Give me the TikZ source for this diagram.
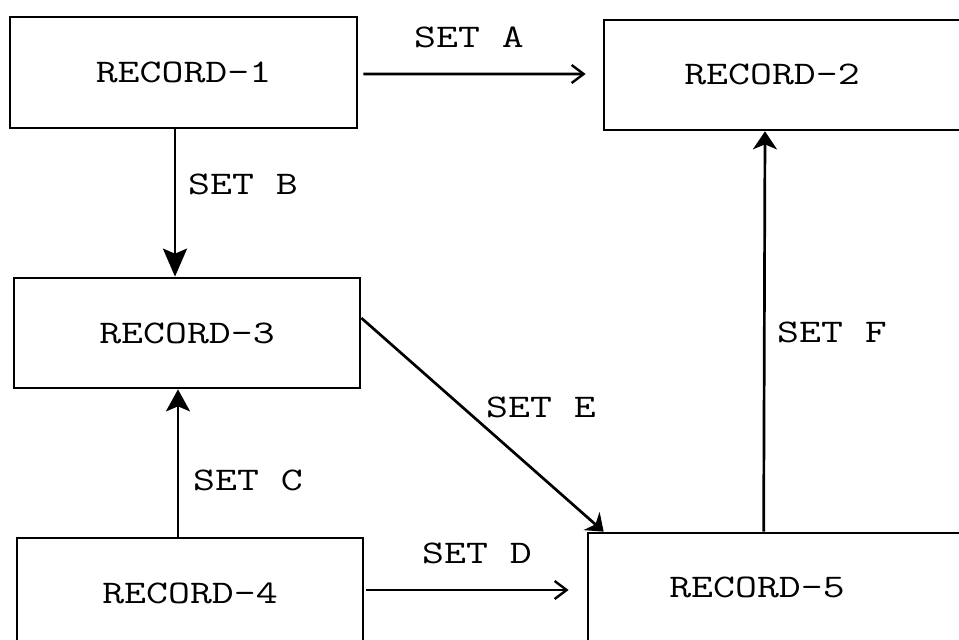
\documentclass[tikz,border=0pt]{standalone}
\usepackage{fontspec}
\usepackage{graphicx}
\usetikzlibrary{arrows.meta,calc}
\newcommand{\reffont}{\ttfamily\fontsize{33bp}{38bp}\selectfont}
\newcommand{\ls}[1]{\scalebox{1.29}[1]{#1}}
\begin{document}
\begin{tikzpicture}[x=1bp,y=-1bp,
  rec/.style={draw,line width=2.7bp,rectangle,inner sep=0pt,font=\reffont},
  txt/.style={font=\reffont,inner sep=0pt},
  con/.style={line width=2.7bp},
  openarr/.style={con,-{Straight Barb[length=12bp,width=18bp,line width=2.4bp]}},
  fillarr/.style={con,-{Stealth[length=#1,width=24bp,inset=5bp]}},
  fillarr/.default=26bp
]
\useasboundingbox[fill=white] (0,0) rectangle (959,640);
\begin{scope}
\clip (0,0) rectangle (959,640);
% boxes
\node[rec,minimum width=347bp,minimum height=111bp] (r1) at (183.5,72.5) {\ls{RECORD-1}};
\node[rec,minimum width=400bp,minimum height=110bp] (r2) at (804,75) {};
\node[txt] (t2) at (772,74) {\ls{RECORD-2}};
\node[rec,minimum width=346bp,minimum height=110bp] (r3) at (187,333) {\ls{RECORD-3}};
\node[rec,minimum width=346bp,minimum height=110bp] (r4) at (190,593) {\ls{RECORD-4}};
\node[rec,minimum width=420bp,minimum height=120bp] (r5) at (798,593) {};
\node[txt] (t5) at (757,587) {\ls{RECORD-5}};
% connectors
\draw[openarr] ($(r1.east)+(5,1.5)$) -- ($(r2.west)+(-17,-1)$);
\draw[fillarr=28bp] ($(r1.south)+(-8.5,0)$) -- ($(r3.north)+(-12,0)$);
\draw[fillarr=22bp] ($(r4.north)+(-12,0)$) -- ($(r3.south)+(-9,0)$);
\draw[openarr] ($(r4.east)+(2,-3)$) -- ($(r5.west)+(-18,-3)$);
\draw[fillarr=16bp] ($(r3.east)+(0,-15)$) -- ($(r5.north west)+(17,0)$);
\draw[fillarr=18bp] ($(r5.north west)+(177,0)$) -- ($(r2.south)+(-39,0)$);
% labels
\node[txt] (la) at (469,37) {\ls{SET A}};
\node[txt] (lb) at (243,184) {\ls{SET B}};
\node[txt] (lc) at (248,480) {\ls{SET C}};
\node[txt] (ld) at (477,553) {\ls{SET D}};
\node[txt] (le) at (541,407) {\ls{SET E}};
\node[txt] (lf) at (832,332) {\ls{SET F}};
\end{scope}
\end{tikzpicture}
\end{document}
